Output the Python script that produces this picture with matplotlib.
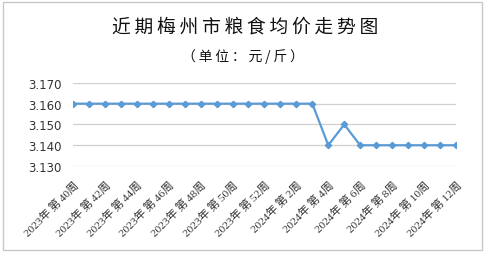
import matplotlib
matplotlib.use("Agg")
import matplotlib.pyplot as plt
from matplotlib.patches import Rectangle

plt.rcParams['font.family'] = ['Noto Sans CJK SC', 'DejaVu Sans']

weeks = ([f"2023年第{w}周" for w in range(40, 53)] +
         [f"2024年第{w}周" for w in range(1, 13)])
prices = [3.160] * 16 + [3.140, 3.150] + [3.140] * 7
yticks = [3.130, 3.140, 3.150, 3.160, 3.170]
title = "近期梅州市粮食均价走势图"
subtitle = "（单位：元/斤）"

fig = plt.figure(figsize=(4.85, 2.55), dpi=100)
ax = fig.add_axes([0.1505, 0.345, 0.7895, 0.326])

x = list(range(len(weeks)))
ax.plot(x, prices, color='#5B9BD5', linewidth=1.6, marker='D', markersize=3.2,
        markerfacecolor='#5B9BD5', markeredgecolor='#5B9BD5', zorder=3)

ax.set_xlim(0, len(weeks) - 1)
ax.set_ylim(3.130, 3.170)
ax.set_yticks(yticks)
ax.set_yticklabels([f"{v:.3f}" for v in yticks], fontsize=8.5, color='#333333',
                   family=['DejaVu Sans'])
ax.grid(axis='y', color='#D0D0D0', linewidth=0.9)
ax.set_axisbelow(True)
for s in ax.spines.values():
    s.set_visible(False)
ax.tick_params(axis='y', length=0, pad=8)

thin = "\u2009"
tick_idx = x[::2]
ax.set_xticks(tick_idx)
ax.set_xticklabels([weeks[i].replace("年", "年" + thin).replace("第", "第" + thin)
                    for i in tick_idx],
                   rotation=45, ha='right', va='top',
                   rotation_mode='anchor', fontsize=8.2, color='#333333',
                   family=['Liberation Serif', 'Noto Sans CJK SC', 'DejaVu Sans'])
ax.tick_params(axis='x', length=0, pad=9)

fig.text(0.505, 0.893, thin.join(title), ha='center', va='center', fontsize=13.5,
         color='#111111')
fig.text(0.50, 0.78, thin.join(subtitle), ha='center', va='center', fontsize=10,
         color='#111111')

fig.patches.append(Rectangle((0.006, 0.014), 0.988, 0.975, transform=fig.transFigure,
                             fill=False, edgecolor='#C8C8C8', linewidth=1.0))

fig.savefig("out.png", dpi=100)
